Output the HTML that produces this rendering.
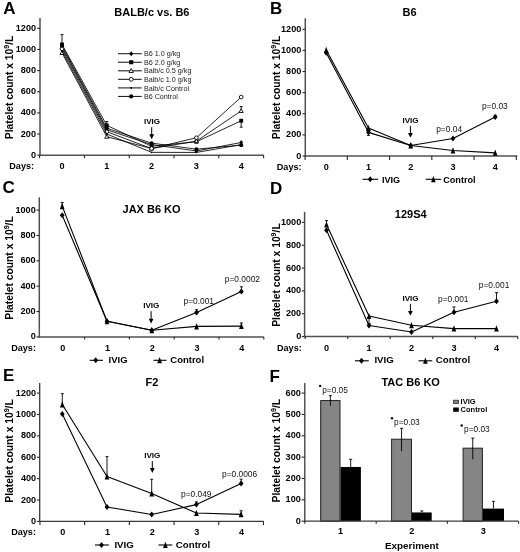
<!DOCTYPE html>
<html><head><meta charset="utf-8"><style>
html,body{margin:0;padding:0;background:#fff;width:520px;height:552px;overflow:hidden}
body{position:relative;font-family:"Liberation Sans", sans-serif}
</style></head><body>
<svg width="520" height="552" viewBox="0 0 520 552" style="position:absolute;left:0;top:0;will-change:transform">
<g font-family='"Liberation Sans", sans-serif'>
<text x="3.20" y="13.70" font-size="17" font-weight="bold" text-anchor="start" fill="#000" >A</text>
<text x="151.90" y="16.10" font-size="11" font-weight="bold" text-anchor="middle" fill="#000" >BALB/c vs. B6</text>
<line x1="40.00" y1="18.00" x2="40.00" y2="155.95" stroke="#505050" stroke-width="1.5"/>
<line x1="37.20" y1="155.20" x2="40.00" y2="155.20" stroke="#262626" stroke-width="1.1"/>
<text x="36.00" y="157.70" font-size="9.1" font-weight="bold" text-anchor="end" fill="#000" >0</text>
<line x1="37.20" y1="134.05" x2="40.00" y2="134.05" stroke="#262626" stroke-width="1.1"/>
<text x="36.00" y="136.55" font-size="9.1" font-weight="bold" text-anchor="end" fill="#000" >200</text>
<line x1="37.20" y1="112.90" x2="40.00" y2="112.90" stroke="#262626" stroke-width="1.1"/>
<text x="36.00" y="115.40" font-size="9.1" font-weight="bold" text-anchor="end" fill="#000" >400</text>
<line x1="37.20" y1="91.75" x2="40.00" y2="91.75" stroke="#262626" stroke-width="1.1"/>
<text x="36.00" y="94.25" font-size="9.1" font-weight="bold" text-anchor="end" fill="#000" >600</text>
<line x1="37.20" y1="70.60" x2="40.00" y2="70.60" stroke="#262626" stroke-width="1.1"/>
<text x="36.00" y="73.10" font-size="9.1" font-weight="bold" text-anchor="end" fill="#000" >800</text>
<line x1="37.20" y1="49.45" x2="40.00" y2="49.45" stroke="#262626" stroke-width="1.1"/>
<text x="36.00" y="51.95" font-size="9.1" font-weight="bold" text-anchor="end" fill="#000" >1000</text>
<line x1="37.20" y1="28.30" x2="40.00" y2="28.30" stroke="#262626" stroke-width="1.1"/>
<text x="36.00" y="30.80" font-size="9.1" font-weight="bold" text-anchor="end" fill="#000" >1200</text>
<line x1="39.25" y1="155.20" x2="263.80" y2="155.20" stroke="#505050" stroke-width="1.5"/>
<line x1="39.60" y1="155.20" x2="39.60" y2="158.20" stroke="#262626" stroke-width="1.1"/>
<line x1="84.40" y1="155.20" x2="84.40" y2="158.20" stroke="#262626" stroke-width="1.1"/>
<line x1="129.20" y1="155.20" x2="129.20" y2="158.20" stroke="#262626" stroke-width="1.1"/>
<line x1="174.00" y1="155.20" x2="174.00" y2="158.20" stroke="#262626" stroke-width="1.1"/>
<line x1="218.80" y1="155.20" x2="218.80" y2="158.20" stroke="#262626" stroke-width="1.1"/>
<line x1="263.60" y1="155.20" x2="263.60" y2="158.20" stroke="#262626" stroke-width="1.1"/>
<text x="62.00" y="169.20" font-size="9.1" font-weight="bold" text-anchor="middle" fill="#000" >0</text>
<text x="106.80" y="169.20" font-size="9.1" font-weight="bold" text-anchor="middle" fill="#000" >1</text>
<text x="151.60" y="169.20" font-size="9.1" font-weight="bold" text-anchor="middle" fill="#000" >2</text>
<text x="196.40" y="169.20" font-size="9.1" font-weight="bold" text-anchor="middle" fill="#000" >3</text>
<text x="241.20" y="169.20" font-size="9.1" font-weight="bold" text-anchor="middle" fill="#000" >4</text>
<text x="9.30" y="169.20" font-size="9.1" font-weight="bold" text-anchor="start" fill="#000" >Days:</text>
<text x="0" y="0" font-size="10.3" font-weight="bold" text-anchor="middle" transform="translate(12.50,87.45) rotate(-90)">Platelet count x 10<tspan font-size="7" dy="-3.3">9</tspan><tspan dy="3.3">/L</tspan></text>
<polyline points="62.00,45.75 106.80,128.23 151.60,143.14 196.40,149.17 241.20,145.15" fill="none" stroke="#000" stroke-width="0.85" stroke-linejoin="round"/>
<circle cx="62.00" cy="45.75" r="2.00" fill="#000"/>
<circle cx="106.80" cy="128.23" r="2.00" fill="#000"/>
<circle cx="151.60" cy="143.14" r="2.00" fill="#000"/>
<circle cx="196.40" cy="149.17" r="2.00" fill="#000"/>
<circle cx="241.20" cy="145.15" r="2.00" fill="#000"/>
<polyline points="62.00,47.33 106.80,129.82 151.60,144.62 196.40,150.97 241.20,142.51" fill="none" stroke="#000" stroke-width="0.85" stroke-linejoin="round"/>
<path d="M62.00,44.93L63.92,47.33L62.00,49.73L60.08,47.33Z" fill="#000"/>
<path d="M106.80,127.42L108.72,129.82L106.80,132.22L104.88,129.82Z" fill="#000"/>
<path d="M151.60,142.22L153.52,144.62L151.60,147.03L149.68,144.62Z" fill="#000"/>
<path d="M196.40,148.57L198.32,150.97L196.40,153.37L194.48,150.97Z" fill="#000"/>
<path d="M241.20,140.11L243.12,142.51L241.20,144.91L239.28,142.51Z" fill="#000"/>
<polyline points="62.00,44.48 106.80,125.38 151.60,146.21 196.40,141.77 241.20,120.73" fill="none" stroke="#000" stroke-width="0.85" stroke-linejoin="round"/>
<line x1="62.00" y1="44.48" x2="62.00" y2="34.64" stroke="#000" stroke-width="0.9"/>
<line x1="60.50" y1="34.64" x2="63.50" y2="34.64" stroke="#000" stroke-width="0.9"/>
<line x1="106.80" y1="125.38" x2="106.80" y2="121.57" stroke="#000" stroke-width="0.9"/>
<line x1="105.30" y1="121.57" x2="108.30" y2="121.57" stroke="#000" stroke-width="0.9"/>
<line x1="241.20" y1="120.73" x2="241.20" y2="127.18" stroke="#000" stroke-width="0.9"/>
<line x1="239.70" y1="127.18" x2="242.70" y2="127.18" stroke="#000" stroke-width="0.9"/>
<rect x="60.08" y="42.56" width="3.84" height="3.84" fill="#000"/>
<rect x="104.88" y="123.46" width="3.84" height="3.84" fill="#000"/>
<rect x="149.68" y="144.29" width="3.84" height="3.84" fill="#000"/>
<rect x="194.48" y="139.85" width="3.84" height="3.84" fill="#000"/>
<rect x="239.28" y="118.81" width="3.84" height="3.84" fill="#000"/>
<polyline points="62.00,52.94 106.80,136.69 151.60,148.54 196.40,141.14 241.20,110.89" fill="none" stroke="#000" stroke-width="0.85" stroke-linejoin="round"/>
<line x1="241.20" y1="110.89" x2="241.20" y2="106.55" stroke="#000" stroke-width="0.9"/>
<line x1="239.70" y1="106.55" x2="242.70" y2="106.55" stroke="#000" stroke-width="0.9"/>
<path d="M62.00,50.86L64.08,54.50L59.92,54.50Z" fill="#fff" stroke="#000" stroke-width="0.9"/>
<path d="M106.80,134.61L108.88,138.25L104.72,138.25Z" fill="#fff" stroke="#000" stroke-width="0.9"/>
<path d="M151.60,146.46L153.68,150.10L149.52,150.10Z" fill="#fff" stroke="#000" stroke-width="0.9"/>
<path d="M196.40,139.06L198.48,142.70L194.32,142.70Z" fill="#fff" stroke="#000" stroke-width="0.9"/>
<path d="M241.20,108.81L243.28,112.45L239.12,112.45Z" fill="#fff" stroke="#000" stroke-width="0.9"/>
<polyline points="62.00,48.92 106.80,131.72 151.60,148.54 196.40,137.75 241.20,97.04" fill="none" stroke="#000" stroke-width="0.85" stroke-linejoin="round"/>
<circle cx="62.00" cy="48.92" r="1.84" fill="#fff" stroke="#000" stroke-width="0.9"/>
<circle cx="106.80" cy="131.72" r="1.84" fill="#fff" stroke="#000" stroke-width="0.9"/>
<circle cx="151.60" cy="148.54" r="1.84" fill="#fff" stroke="#000" stroke-width="0.9"/>
<circle cx="196.40" cy="137.75" r="1.84" fill="#fff" stroke="#000" stroke-width="0.9"/>
<circle cx="241.20" cy="97.04" r="1.84" fill="#fff" stroke="#000" stroke-width="0.9"/>
<polyline points="62.00,51.04 106.80,134.05 151.60,152.34 196.40,152.45 241.20,144.62" fill="none" stroke="#000" stroke-width="0.85" stroke-linejoin="round"/>
<circle cx="62.00" cy="51.04" r="0.88" fill="#000"/>
<circle cx="106.80" cy="134.05" r="0.88" fill="#000"/>
<circle cx="151.60" cy="152.34" r="0.88" fill="#000"/>
<circle cx="196.40" cy="152.45" r="0.88" fill="#000"/>
<circle cx="241.20" cy="144.62" r="0.88" fill="#000"/>
<text x="152.00" y="124.30" font-size="8.1" font-weight="bold" text-anchor="middle" fill="#000" >IVIG</text>
<line x1="151.70" y1="127.20" x2="151.70" y2="136.20" stroke="#000" stroke-width="1.0"/>
<path d="M149.30,134.30L154.10,134.30L151.70,139.20Z" fill="#000"/>
<line x1="118.00" y1="53.70" x2="141.70" y2="53.70" stroke="#222" stroke-width="1.1"/>
<path d="M131.20,51.15L133.24,53.70L131.20,56.25L129.16,53.70Z" fill="#000"/>
<text x="143.90" y="56.30" font-size="7.2" font-weight="normal" text-anchor="start" fill="#1a1a1a" >B6 1.0 g/kg</text>
<line x1="118.00" y1="62.25" x2="141.70" y2="62.25" stroke="#222" stroke-width="1.1"/>
<rect x="129.16" y="60.21" width="4.08" height="4.08" fill="#000"/>
<text x="143.90" y="64.85" font-size="7.2" font-weight="normal" text-anchor="start" fill="#1a1a1a" >B6 2.0 g/kg</text>
<line x1="118.00" y1="70.80" x2="141.70" y2="70.80" stroke="#222" stroke-width="1.1"/>
<path d="M131.20,68.59L133.41,72.46L128.99,72.46Z" fill="#fff" stroke="#000" stroke-width="0.9"/>
<text x="143.90" y="73.40" font-size="7.2" font-weight="normal" text-anchor="start" fill="#1a1a1a" >Balb/c 0.5 g/kg</text>
<line x1="118.00" y1="79.35" x2="141.70" y2="79.35" stroke="#222" stroke-width="1.1"/>
<circle cx="131.20" cy="79.35" r="1.95" fill="#fff" stroke="#000" stroke-width="0.9"/>
<text x="143.90" y="81.95" font-size="7.2" font-weight="normal" text-anchor="start" fill="#1a1a1a" >Balb/c 1.0 g/kg</text>
<line x1="118.00" y1="87.90" x2="141.70" y2="87.90" stroke="#222" stroke-width="1.1"/>
<circle cx="131.20" cy="87.90" r="0.94" fill="#000"/>
<text x="143.90" y="90.50" font-size="7.2" font-weight="normal" text-anchor="start" fill="#1a1a1a" >Balb/c Control</text>
<line x1="118.00" y1="96.45" x2="141.70" y2="96.45" stroke="#222" stroke-width="1.1"/>
<circle cx="131.20" cy="96.45" r="2.12" fill="#000"/>
<text x="143.90" y="99.05" font-size="7.2" font-weight="normal" text-anchor="start" fill="#1a1a1a" >B6 Control</text>
<text x="270.00" y="13.60" font-size="17" font-weight="bold" text-anchor="start" fill="#000" >B</text>
<text x="409.50" y="16.20" font-size="11" font-weight="bold" text-anchor="middle" fill="#000" >B6</text>
<line x1="305.30" y1="18.30" x2="305.30" y2="156.75" stroke="#505050" stroke-width="1.5"/>
<line x1="302.50" y1="156.00" x2="305.30" y2="156.00" stroke="#262626" stroke-width="1.1"/>
<text x="301.30" y="158.50" font-size="9.1" font-weight="bold" text-anchor="end" fill="#000" >0</text>
<line x1="302.50" y1="134.88" x2="305.30" y2="134.88" stroke="#262626" stroke-width="1.1"/>
<text x="301.30" y="137.38" font-size="9.1" font-weight="bold" text-anchor="end" fill="#000" >200</text>
<line x1="302.50" y1="113.76" x2="305.30" y2="113.76" stroke="#262626" stroke-width="1.1"/>
<text x="301.30" y="116.26" font-size="9.1" font-weight="bold" text-anchor="end" fill="#000" >400</text>
<line x1="302.50" y1="92.64" x2="305.30" y2="92.64" stroke="#262626" stroke-width="1.1"/>
<text x="301.30" y="95.14" font-size="9.1" font-weight="bold" text-anchor="end" fill="#000" >600</text>
<line x1="302.50" y1="71.52" x2="305.30" y2="71.52" stroke="#262626" stroke-width="1.1"/>
<text x="301.30" y="74.02" font-size="9.1" font-weight="bold" text-anchor="end" fill="#000" >800</text>
<line x1="302.50" y1="50.40" x2="305.30" y2="50.40" stroke="#262626" stroke-width="1.1"/>
<text x="301.30" y="52.90" font-size="9.1" font-weight="bold" text-anchor="end" fill="#000" >1000</text>
<line x1="302.50" y1="29.28" x2="305.30" y2="29.28" stroke="#262626" stroke-width="1.1"/>
<text x="301.30" y="31.78" font-size="9.1" font-weight="bold" text-anchor="end" fill="#000" >1200</text>
<line x1="304.55" y1="156.00" x2="517.30" y2="156.00" stroke="#505050" stroke-width="1.5"/>
<line x1="305.07" y1="156.00" x2="305.07" y2="159.90" stroke="#262626" stroke-width="1.1"/>
<line x1="347.32" y1="156.00" x2="347.32" y2="159.90" stroke="#262626" stroke-width="1.1"/>
<line x1="389.57" y1="156.00" x2="389.57" y2="159.90" stroke="#262626" stroke-width="1.1"/>
<line x1="431.82" y1="156.00" x2="431.82" y2="159.90" stroke="#262626" stroke-width="1.1"/>
<line x1="474.07" y1="156.00" x2="474.07" y2="159.90" stroke="#262626" stroke-width="1.1"/>
<line x1="516.33" y1="156.00" x2="516.33" y2="159.90" stroke="#262626" stroke-width="1.1"/>
<text x="326.20" y="169.60" font-size="9.1" font-weight="bold" text-anchor="middle" fill="#000" >0</text>
<text x="368.45" y="169.60" font-size="9.1" font-weight="bold" text-anchor="middle" fill="#000" >1</text>
<text x="410.70" y="169.60" font-size="9.1" font-weight="bold" text-anchor="middle" fill="#000" >2</text>
<text x="452.95" y="169.60" font-size="9.1" font-weight="bold" text-anchor="middle" fill="#000" >3</text>
<text x="495.20" y="169.60" font-size="9.1" font-weight="bold" text-anchor="middle" fill="#000" >4</text>
<text x="276.80" y="169.60" font-size="9.1" font-weight="bold" text-anchor="start" fill="#000" >Days:</text>
<text x="0" y="0" font-size="10.3" font-weight="bold" text-anchor="middle" transform="translate(279.70,87.45) rotate(-90)">Platelet count x 10<tspan font-size="7" dy="-3.3">9</tspan><tspan dy="3.3">/L</tspan></text>
<polyline points="326.20,49.98 368.45,128.02 410.70,145.44 452.95,150.51 495.20,152.83" fill="none" stroke="#000" stroke-width="1.1" stroke-linejoin="round"/>
<path d="M326.20,46.68L328.55,52.98L323.85,52.98Z" fill="#000"/>
<path d="M368.45,124.72L370.80,131.02L366.10,131.02Z" fill="#000"/>
<path d="M410.70,142.14L413.05,148.44L408.35,148.44Z" fill="#000"/>
<path d="M452.95,147.21L455.30,153.51L450.60,153.51Z" fill="#000"/>
<path d="M495.20,149.53L497.55,155.83L492.85,155.83Z" fill="#000"/>
<polyline points="326.20,52.72 368.45,132.35 410.70,145.44 452.95,138.47 495.20,117.03" fill="none" stroke="#000" stroke-width="1.1" stroke-linejoin="round"/>
<line x1="368.45" y1="132.35" x2="368.45" y2="135.41" stroke="#000" stroke-width="0.9"/>
<line x1="366.95" y1="135.41" x2="369.95" y2="135.41" stroke="#000" stroke-width="0.9"/>
<line x1="495.20" y1="117.03" x2="495.20" y2="115.34" stroke="#000" stroke-width="0.9"/>
<line x1="493.70" y1="115.34" x2="496.70" y2="115.34" stroke="#000" stroke-width="0.9"/>
<path d="M326.20,49.72L328.60,52.72L326.20,55.72L323.80,52.72Z" fill="#000"/>
<path d="M368.45,129.35L370.85,132.35L368.45,135.35L366.05,132.35Z" fill="#000"/>
<path d="M410.70,142.44L413.10,145.44L410.70,148.44L408.30,145.44Z" fill="#000"/>
<path d="M452.95,135.47L455.35,138.47L452.95,141.47L450.55,138.47Z" fill="#000"/>
<path d="M495.20,114.03L497.60,117.03L495.20,120.03L492.80,117.03Z" fill="#000"/>
<text x="410.50" y="122.80" font-size="8.1" font-weight="bold" text-anchor="middle" fill="#000" >IVIG</text>
<line x1="410.40" y1="125.80" x2="410.40" y2="134.80" stroke="#000" stroke-width="1.0"/>
<path d="M408.00,132.90L412.80,132.90L410.40,137.80Z" fill="#000"/>
<text x="436.20" y="131.80" font-size="8.4" font-weight="normal" text-anchor="start" fill="#111" >p=0.04</text>
<text x="481.90" y="108.70" font-size="8.4" font-weight="normal" text-anchor="start" fill="#111" >p=0.03</text>
<line x1="362.50" y1="179.30" x2="377.90" y2="179.30" stroke="#000" stroke-width="1.1"/>
<path d="M370.20,176.30L372.60,179.30L370.20,182.30L367.80,179.30Z" fill="#000"/>
<text x="381.90" y="182.50" font-size="9.15" font-weight="bold" text-anchor="start" fill="#000" >IVIG</text>
<line x1="425.70" y1="179.30" x2="441.20" y2="179.30" stroke="#000" stroke-width="1.1"/>
<path d="M433.40,176.00L435.75,182.30L431.05,182.30Z" fill="#000"/>
<text x="443.20" y="182.50" font-size="9.15" font-weight="bold" text-anchor="start" fill="#000" >Control</text>
<text x="2.60" y="193.20" font-size="17" font-weight="bold" text-anchor="start" fill="#000" >C</text>
<text x="151.60" y="213.30" font-size="11" font-weight="bold" text-anchor="middle" fill="#000" >JAX B6 KO</text>
<line x1="39.30" y1="197.30" x2="39.30" y2="337.65" stroke="#505050" stroke-width="1.5"/>
<line x1="36.50" y1="336.90" x2="39.30" y2="336.90" stroke="#262626" stroke-width="1.1"/>
<text x="35.70" y="339.40" font-size="9.1" font-weight="bold" text-anchor="end" fill="#000" >0</text>
<line x1="36.50" y1="311.54" x2="39.30" y2="311.54" stroke="#262626" stroke-width="1.1"/>
<text x="35.70" y="314.04" font-size="9.1" font-weight="bold" text-anchor="end" fill="#000" >200</text>
<line x1="36.50" y1="286.18" x2="39.30" y2="286.18" stroke="#262626" stroke-width="1.1"/>
<text x="35.70" y="288.68" font-size="9.1" font-weight="bold" text-anchor="end" fill="#000" >400</text>
<line x1="36.50" y1="260.82" x2="39.30" y2="260.82" stroke="#262626" stroke-width="1.1"/>
<text x="35.70" y="263.32" font-size="9.1" font-weight="bold" text-anchor="end" fill="#000" >600</text>
<line x1="36.50" y1="235.46" x2="39.30" y2="235.46" stroke="#262626" stroke-width="1.1"/>
<text x="35.70" y="237.96" font-size="9.1" font-weight="bold" text-anchor="end" fill="#000" >800</text>
<line x1="36.50" y1="210.10" x2="39.30" y2="210.10" stroke="#262626" stroke-width="1.1"/>
<text x="35.70" y="212.60" font-size="9.1" font-weight="bold" text-anchor="end" fill="#000" >1000</text>
<line x1="38.55" y1="336.90" x2="263.80" y2="336.90" stroke="#505050" stroke-width="1.5"/>
<line x1="84.60" y1="336.90" x2="84.60" y2="339.60" stroke="#262626" stroke-width="1.1"/>
<line x1="129.40" y1="336.90" x2="129.40" y2="339.60" stroke="#262626" stroke-width="1.1"/>
<line x1="174.20" y1="336.90" x2="174.20" y2="339.60" stroke="#262626" stroke-width="1.1"/>
<line x1="219.00" y1="336.90" x2="219.00" y2="339.60" stroke="#262626" stroke-width="1.1"/>
<line x1="263.80" y1="336.90" x2="263.80" y2="339.60" stroke="#262626" stroke-width="1.1"/>
<text x="62.70" y="351.20" font-size="9.1" font-weight="bold" text-anchor="middle" fill="#000" >0</text>
<text x="107.50" y="351.20" font-size="9.1" font-weight="bold" text-anchor="middle" fill="#000" >1</text>
<text x="152.30" y="351.20" font-size="9.1" font-weight="bold" text-anchor="middle" fill="#000" >2</text>
<text x="197.10" y="351.20" font-size="9.1" font-weight="bold" text-anchor="middle" fill="#000" >3</text>
<text x="241.90" y="351.20" font-size="9.1" font-weight="bold" text-anchor="middle" fill="#000" >4</text>
<text x="11.20" y="351.20" font-size="9.1" font-weight="bold" text-anchor="start" fill="#000" >Days:</text>
<text x="0" y="0" font-size="10.3" font-weight="bold" text-anchor="middle" transform="translate(12.50,268.00) rotate(-90)">Platelet count x 10<tspan font-size="7" dy="-3.3">9</tspan><tspan dy="3.3">/L</tspan></text>
<polyline points="62.20,206.17 107.00,321.18 151.80,330.31 196.60,326.38 241.40,326.12" fill="none" stroke="#000" stroke-width="1.1" stroke-linejoin="round"/>
<line x1="62.20" y1="206.17" x2="62.20" y2="202.49" stroke="#000" stroke-width="0.9"/>
<line x1="60.70" y1="202.49" x2="63.70" y2="202.49" stroke="#000" stroke-width="0.9"/>
<line x1="241.40" y1="326.12" x2="241.40" y2="322.95" stroke="#000" stroke-width="0.9"/>
<line x1="239.90" y1="322.95" x2="242.90" y2="322.95" stroke="#000" stroke-width="0.9"/>
<path d="M62.20,202.87L64.55,209.17L59.85,209.17Z" fill="#000"/>
<path d="M107.00,317.88L109.35,324.18L104.65,324.18Z" fill="#000"/>
<path d="M151.80,327.01L154.15,333.31L149.45,333.31Z" fill="#000"/>
<path d="M196.60,323.08L198.95,329.38L194.25,329.38Z" fill="#000"/>
<path d="M241.40,322.82L243.75,329.12L239.05,329.12Z" fill="#000"/>
<polyline points="62.20,215.17 107.00,321.18 151.80,330.31 196.60,312.55 241.40,291.51" fill="none" stroke="#000" stroke-width="1.1" stroke-linejoin="round"/>
<line x1="196.60" y1="312.55" x2="196.60" y2="309.64" stroke="#000" stroke-width="0.9"/>
<line x1="195.10" y1="309.64" x2="198.10" y2="309.64" stroke="#000" stroke-width="0.9"/>
<line x1="241.40" y1="291.51" x2="241.40" y2="286.81" stroke="#000" stroke-width="0.9"/>
<line x1="239.90" y1="286.81" x2="242.90" y2="286.81" stroke="#000" stroke-width="0.9"/>
<path d="M62.20,212.17L64.60,215.17L62.20,218.17L59.80,215.17Z" fill="#000"/>
<path d="M107.00,318.18L109.40,321.18L107.00,324.18L104.60,321.18Z" fill="#000"/>
<path d="M151.80,327.31L154.20,330.31L151.80,333.31L149.40,330.31Z" fill="#000"/>
<path d="M196.60,309.55L199.00,312.55L196.60,315.55L194.20,312.55Z" fill="#000"/>
<path d="M241.40,288.51L243.80,291.51L241.40,294.51L239.00,291.51Z" fill="#000"/>
<text x="151.25" y="308.40" font-size="8.1" font-weight="bold" text-anchor="middle" fill="#000" >IVIG</text>
<line x1="151.10" y1="311.20" x2="151.10" y2="320.60" stroke="#000" stroke-width="1.0"/>
<path d="M148.70,318.70L153.50,318.70L151.10,323.60Z" fill="#000"/>
<text x="183.50" y="304.00" font-size="8.4" font-weight="normal" text-anchor="start" fill="#111" >p=0.001</text>
<text x="224.80" y="282.20" font-size="8.4" font-weight="normal" text-anchor="start" fill="#111" >p=0.0002</text>
<line x1="89.70" y1="360.30" x2="103.00" y2="360.30" stroke="#000" stroke-width="1.1"/>
<path d="M95.70,357.30L98.10,360.30L95.70,363.30L93.30,360.30Z" fill="#000"/>
<text x="108.60" y="363.20" font-size="9.5" font-weight="bold" text-anchor="start" fill="#000" >IVIG</text>
<line x1="153.40" y1="360.30" x2="166.50" y2="360.30" stroke="#000" stroke-width="1.1"/>
<path d="M159.60,357.00L161.95,363.30L157.25,363.30Z" fill="#000"/>
<text x="170.30" y="363.20" font-size="9.5" font-weight="bold" text-anchor="start" fill="#000" >Control</text>
<text x="270.00" y="193.60" font-size="17" font-weight="bold" text-anchor="start" fill="#000" >D</text>
<text x="410.70" y="218.40" font-size="11" font-weight="bold" text-anchor="middle" fill="#000" >129S4</text>
<line x1="304.60" y1="211.90" x2="304.60" y2="337.35" stroke="#505050" stroke-width="1.5"/>
<line x1="301.80" y1="336.60" x2="304.60" y2="336.60" stroke="#262626" stroke-width="1.1"/>
<text x="301.20" y="339.10" font-size="9.1" font-weight="bold" text-anchor="end" fill="#000" >0</text>
<line x1="301.80" y1="313.76" x2="304.60" y2="313.76" stroke="#262626" stroke-width="1.1"/>
<text x="301.20" y="316.26" font-size="9.1" font-weight="bold" text-anchor="end" fill="#000" >200</text>
<line x1="301.80" y1="290.92" x2="304.60" y2="290.92" stroke="#262626" stroke-width="1.1"/>
<text x="301.20" y="293.42" font-size="9.1" font-weight="bold" text-anchor="end" fill="#000" >400</text>
<line x1="301.80" y1="268.08" x2="304.60" y2="268.08" stroke="#262626" stroke-width="1.1"/>
<text x="301.20" y="270.58" font-size="9.1" font-weight="bold" text-anchor="end" fill="#000" >600</text>
<line x1="301.80" y1="245.24" x2="304.60" y2="245.24" stroke="#262626" stroke-width="1.1"/>
<text x="301.20" y="247.74" font-size="9.1" font-weight="bold" text-anchor="end" fill="#000" >800</text>
<line x1="301.80" y1="222.40" x2="304.60" y2="222.40" stroke="#262626" stroke-width="1.1"/>
<text x="301.20" y="224.90" font-size="9.1" font-weight="bold" text-anchor="end" fill="#000" >1000</text>
<line x1="303.85" y1="336.60" x2="518.00" y2="336.60" stroke="#505050" stroke-width="1.5"/>
<line x1="305.25" y1="336.60" x2="305.25" y2="339.00" stroke="#262626" stroke-width="1.1"/>
<line x1="347.75" y1="336.60" x2="347.75" y2="339.00" stroke="#262626" stroke-width="1.1"/>
<line x1="390.25" y1="336.60" x2="390.25" y2="339.00" stroke="#262626" stroke-width="1.1"/>
<line x1="432.75" y1="336.60" x2="432.75" y2="339.00" stroke="#262626" stroke-width="1.1"/>
<line x1="475.25" y1="336.60" x2="475.25" y2="339.00" stroke="#262626" stroke-width="1.1"/>
<line x1="517.75" y1="336.60" x2="517.75" y2="339.00" stroke="#262626" stroke-width="1.1"/>
<text x="326.50" y="350.80" font-size="9.1" font-weight="bold" text-anchor="middle" fill="#000" >0</text>
<text x="369.00" y="350.80" font-size="9.1" font-weight="bold" text-anchor="middle" fill="#000" >1</text>
<text x="411.50" y="350.80" font-size="9.1" font-weight="bold" text-anchor="middle" fill="#000" >2</text>
<text x="454.00" y="350.80" font-size="9.1" font-weight="bold" text-anchor="middle" fill="#000" >3</text>
<text x="496.50" y="350.80" font-size="9.1" font-weight="bold" text-anchor="middle" fill="#000" >4</text>
<text x="277.00" y="350.80" font-size="9.1" font-weight="bold" text-anchor="start" fill="#000" >Days:</text>
<text x="0" y="0" font-size="10.3" font-weight="bold" text-anchor="middle" transform="translate(279.70,275.05) rotate(-90)">Platelet count x 10<tspan font-size="7" dy="-3.3">9</tspan><tspan dy="3.3">/L</tspan></text>
<polyline points="326.50,224.57 369.00,316.04 411.50,325.29 454.00,328.61 496.50,328.61" fill="none" stroke="#000" stroke-width="1.1" stroke-linejoin="round"/>
<line x1="326.50" y1="224.57" x2="326.50" y2="220.57" stroke="#000" stroke-width="0.9"/>
<line x1="325.00" y1="220.57" x2="328.00" y2="220.57" stroke="#000" stroke-width="0.9"/>
<line x1="369.00" y1="316.04" x2="369.00" y2="323.47" stroke="#000" stroke-width="0.9"/>
<line x1="367.50" y1="323.47" x2="370.50" y2="323.47" stroke="#000" stroke-width="0.9"/>
<path d="M326.50,221.27L328.85,227.57L324.15,227.57Z" fill="#000"/>
<path d="M369.00,312.74L371.35,319.04L366.65,319.04Z" fill="#000"/>
<path d="M411.50,321.99L413.85,328.29L409.15,328.29Z" fill="#000"/>
<path d="M454.00,325.31L456.35,331.61L451.65,331.61Z" fill="#000"/>
<path d="M496.50,325.31L498.85,331.61L494.15,331.61Z" fill="#000"/>
<polyline points="326.50,230.17 369.00,325.52 411.50,331.92 454.00,312.16 496.50,301.20" fill="none" stroke="#000" stroke-width="1.1" stroke-linejoin="round"/>
<line x1="454.00" y1="312.16" x2="454.00" y2="306.91" stroke="#000" stroke-width="0.9"/>
<line x1="452.50" y1="306.91" x2="455.50" y2="306.91" stroke="#000" stroke-width="0.9"/>
<line x1="496.50" y1="301.20" x2="496.50" y2="292.63" stroke="#000" stroke-width="0.9"/>
<line x1="495.00" y1="292.63" x2="498.00" y2="292.63" stroke="#000" stroke-width="0.9"/>
<path d="M326.50,227.17L328.90,230.17L326.50,233.17L324.10,230.17Z" fill="#000"/>
<path d="M369.00,322.52L371.40,325.52L369.00,328.52L366.60,325.52Z" fill="#000"/>
<path d="M411.50,328.92L413.90,331.92L411.50,334.92L409.10,331.92Z" fill="#000"/>
<path d="M454.00,309.16L456.40,312.16L454.00,315.16L451.60,312.16Z" fill="#000"/>
<path d="M496.50,298.20L498.90,301.20L496.50,304.20L494.10,301.20Z" fill="#000"/>
<text x="410.50" y="300.60" font-size="8.1" font-weight="bold" text-anchor="middle" fill="#000" >IVIG</text>
<line x1="410.40" y1="303.80" x2="410.40" y2="312.80" stroke="#000" stroke-width="1.0"/>
<path d="M408.00,310.90L412.80,310.90L410.40,315.80Z" fill="#000"/>
<text x="438.00" y="301.50" font-size="8.4" font-weight="normal" text-anchor="start" fill="#111" >p=0.001</text>
<text x="478.80" y="288.30" font-size="8.4" font-weight="normal" text-anchor="start" fill="#111" >p=0.001</text>
<line x1="355.00" y1="360.80" x2="368.80" y2="360.80" stroke="#000" stroke-width="1.1"/>
<path d="M361.50,357.80L363.90,360.80L361.50,363.80L359.10,360.80Z" fill="#000"/>
<text x="374.40" y="363.40" font-size="9.7" font-weight="bold" text-anchor="start" fill="#000" >IVIG</text>
<line x1="418.50" y1="360.80" x2="432.30" y2="360.80" stroke="#000" stroke-width="1.1"/>
<path d="M425.40,357.50L427.75,363.80L423.05,363.80Z" fill="#000"/>
<text x="435.80" y="363.40" font-size="9.7" font-weight="bold" text-anchor="start" fill="#000" >Control</text>
<text x="3.00" y="381.10" font-size="17" font-weight="bold" text-anchor="start" fill="#000" >E</text>
<text x="151.90" y="385.90" font-size="11" font-weight="bold" text-anchor="middle" fill="#000" >F2</text>
<line x1="39.70" y1="383.00" x2="39.70" y2="522.05" stroke="#3a3a3a" stroke-width="1.3"/>
<line x1="36.90" y1="521.40" x2="39.70" y2="521.40" stroke="#262626" stroke-width="1.1"/>
<text x="36.10" y="523.90" font-size="9.1" font-weight="bold" text-anchor="end" fill="#000" >0</text>
<line x1="36.90" y1="500.02" x2="39.70" y2="500.02" stroke="#262626" stroke-width="1.1"/>
<text x="36.10" y="502.52" font-size="9.1" font-weight="bold" text-anchor="end" fill="#000" >200</text>
<line x1="36.90" y1="478.63" x2="39.70" y2="478.63" stroke="#262626" stroke-width="1.1"/>
<text x="36.10" y="481.13" font-size="9.1" font-weight="bold" text-anchor="end" fill="#000" >400</text>
<line x1="36.90" y1="457.25" x2="39.70" y2="457.25" stroke="#262626" stroke-width="1.1"/>
<text x="36.10" y="459.75" font-size="9.1" font-weight="bold" text-anchor="end" fill="#000" >600</text>
<line x1="36.90" y1="435.86" x2="39.70" y2="435.86" stroke="#262626" stroke-width="1.1"/>
<text x="36.10" y="438.36" font-size="9.1" font-weight="bold" text-anchor="end" fill="#000" >800</text>
<line x1="36.90" y1="414.48" x2="39.70" y2="414.48" stroke="#262626" stroke-width="1.1"/>
<text x="36.10" y="416.98" font-size="9.1" font-weight="bold" text-anchor="end" fill="#000" >1000</text>
<line x1="36.90" y1="393.10" x2="39.70" y2="393.10" stroke="#262626" stroke-width="1.1"/>
<text x="36.10" y="395.60" font-size="9.1" font-weight="bold" text-anchor="end" fill="#000" >1200</text>
<line x1="39.05" y1="521.40" x2="263.80" y2="521.40" stroke="#3a3a3a" stroke-width="1.3"/>
<line x1="39.95" y1="521.40" x2="39.95" y2="525.00" stroke="#262626" stroke-width="1.1"/>
<line x1="84.65" y1="521.40" x2="84.65" y2="525.00" stroke="#262626" stroke-width="1.1"/>
<line x1="129.35" y1="521.40" x2="129.35" y2="525.00" stroke="#262626" stroke-width="1.1"/>
<line x1="174.05" y1="521.40" x2="174.05" y2="525.00" stroke="#262626" stroke-width="1.1"/>
<line x1="218.75" y1="521.40" x2="218.75" y2="525.00" stroke="#262626" stroke-width="1.1"/>
<line x1="263.45" y1="521.40" x2="263.45" y2="525.00" stroke="#262626" stroke-width="1.1"/>
<text x="62.80" y="535.20" font-size="9.1" font-weight="bold" text-anchor="middle" fill="#000" >0</text>
<text x="107.50" y="535.20" font-size="9.1" font-weight="bold" text-anchor="middle" fill="#000" >1</text>
<text x="152.20" y="535.20" font-size="9.1" font-weight="bold" text-anchor="middle" fill="#000" >2</text>
<text x="196.90" y="535.20" font-size="9.1" font-weight="bold" text-anchor="middle" fill="#000" >3</text>
<text x="241.60" y="535.20" font-size="9.1" font-weight="bold" text-anchor="middle" fill="#000" >4</text>
<text x="11.20" y="535.20" font-size="9.1" font-weight="bold" text-anchor="start" fill="#000" >Days:</text>
<text x="0" y="0" font-size="10.3" font-weight="bold" text-anchor="middle" transform="translate(12.50,451.00) rotate(-90)">Platelet count x 10<tspan font-size="7" dy="-3.3">9</tspan><tspan dy="3.3">/L</tspan></text>
<polyline points="62.30,404.54 107.00,476.49 151.70,493.60 196.40,513.06 241.10,514.34" fill="none" stroke="#000" stroke-width="1.1" stroke-linejoin="round"/>
<line x1="62.30" y1="404.54" x2="62.30" y2="393.63" stroke="#000" stroke-width="0.9"/>
<line x1="60.80" y1="393.63" x2="63.80" y2="393.63" stroke="#000" stroke-width="0.9"/>
<line x1="107.00" y1="476.49" x2="107.00" y2="456.61" stroke="#000" stroke-width="0.9"/>
<line x1="105.50" y1="456.61" x2="108.50" y2="456.61" stroke="#000" stroke-width="0.9"/>
<line x1="151.70" y1="493.60" x2="151.70" y2="479.27" stroke="#000" stroke-width="0.9"/>
<line x1="150.20" y1="479.27" x2="153.20" y2="479.27" stroke="#000" stroke-width="0.9"/>
<line x1="241.10" y1="514.34" x2="241.10" y2="510.71" stroke="#000" stroke-width="0.9"/>
<line x1="239.60" y1="510.71" x2="242.60" y2="510.71" stroke="#000" stroke-width="0.9"/>
<path d="M62.30,401.24L64.65,407.54L59.95,407.54Z" fill="#000"/>
<path d="M107.00,473.19L109.35,479.49L104.65,479.49Z" fill="#000"/>
<path d="M151.70,490.30L154.05,496.60L149.35,496.60Z" fill="#000"/>
<path d="M196.40,509.76L198.75,516.06L194.05,516.06Z" fill="#000"/>
<path d="M241.10,511.04L243.45,517.34L238.75,517.34Z" fill="#000"/>
<polyline points="62.30,414.05 107.00,506.97 151.70,514.56 196.40,504.61 241.10,483.44" fill="none" stroke="#000" stroke-width="1.1" stroke-linejoin="round"/>
<line x1="196.40" y1="504.61" x2="196.40" y2="501.83" stroke="#000" stroke-width="0.9"/>
<line x1="194.90" y1="501.83" x2="197.90" y2="501.83" stroke="#000" stroke-width="0.9"/>
<line x1="241.10" y1="483.44" x2="241.10" y2="479.17" stroke="#000" stroke-width="0.9"/>
<line x1="239.60" y1="479.17" x2="242.60" y2="479.17" stroke="#000" stroke-width="0.9"/>
<path d="M62.30,411.05L64.70,414.05L62.30,417.05L59.90,414.05Z" fill="#000"/>
<path d="M107.00,503.97L109.40,506.97L107.00,509.97L104.60,506.97Z" fill="#000"/>
<path d="M151.70,511.56L154.10,514.56L151.70,517.56L149.30,514.56Z" fill="#000"/>
<path d="M196.40,501.61L198.80,504.61L196.40,507.61L194.00,504.61Z" fill="#000"/>
<path d="M241.10,480.44L243.50,483.44L241.10,486.44L238.70,483.44Z" fill="#000"/>
<text x="152.25" y="457.60" font-size="8.1" font-weight="bold" text-anchor="middle" fill="#000" >IVIG</text>
<line x1="152.30" y1="461.00" x2="152.30" y2="469.90" stroke="#000" stroke-width="1.0"/>
<path d="M149.90,468.00L154.70,468.00L152.30,472.90Z" fill="#000"/>
<text x="181.00" y="497.20" font-size="8.4" font-weight="normal" text-anchor="start" fill="#111" >p=0.049</text>
<text x="222.00" y="476.50" font-size="8.4" font-weight="normal" text-anchor="start" fill="#111" >p=0.0006</text>
<line x1="95.00" y1="545.00" x2="108.80" y2="545.00" stroke="#000" stroke-width="1.1"/>
<path d="M101.50,542.00L103.90,545.00L101.50,548.00L99.10,545.00Z" fill="#000"/>
<text x="114.40" y="547.90" font-size="9.7" font-weight="bold" text-anchor="start" fill="#000" >IVIG</text>
<line x1="158.50" y1="545.00" x2="172.30" y2="545.00" stroke="#000" stroke-width="1.1"/>
<path d="M165.40,541.70L167.75,548.00L163.05,548.00Z" fill="#000"/>
<text x="175.80" y="547.90" font-size="9.7" font-weight="bold" text-anchor="start" fill="#000" >Control</text>
<text x="269.60" y="381.90" font-size="17" font-weight="bold" text-anchor="start" fill="#000" >F</text>
<text x="410.70" y="386.40" font-size="11" font-weight="bold" text-anchor="middle" fill="#000" >TAC B6 KO</text>
<line x1="304.80" y1="383.00" x2="304.80" y2="521.85" stroke="#3a3a3a" stroke-width="1.3"/>
<line x1="301.60" y1="521.20" x2="304.80" y2="521.20" stroke="#262626" stroke-width="1.1"/>
<text x="300.80" y="523.70" font-size="9.1" font-weight="bold" text-anchor="end" fill="#000" >0</text>
<line x1="301.60" y1="499.85" x2="304.80" y2="499.85" stroke="#262626" stroke-width="1.1"/>
<text x="300.80" y="502.35" font-size="9.1" font-weight="bold" text-anchor="end" fill="#000" >100</text>
<line x1="301.60" y1="478.50" x2="304.80" y2="478.50" stroke="#262626" stroke-width="1.1"/>
<text x="300.80" y="481.00" font-size="9.1" font-weight="bold" text-anchor="end" fill="#000" >200</text>
<line x1="301.60" y1="457.15" x2="304.80" y2="457.15" stroke="#262626" stroke-width="1.1"/>
<text x="300.80" y="459.65" font-size="9.1" font-weight="bold" text-anchor="end" fill="#000" >300</text>
<line x1="301.60" y1="435.80" x2="304.80" y2="435.80" stroke="#262626" stroke-width="1.1"/>
<text x="300.80" y="438.30" font-size="9.1" font-weight="bold" text-anchor="end" fill="#000" >400</text>
<line x1="301.60" y1="414.45" x2="304.80" y2="414.45" stroke="#262626" stroke-width="1.1"/>
<text x="300.80" y="416.95" font-size="9.1" font-weight="bold" text-anchor="end" fill="#000" >500</text>
<line x1="301.60" y1="393.10" x2="304.80" y2="393.10" stroke="#262626" stroke-width="1.1"/>
<text x="300.80" y="395.60" font-size="9.1" font-weight="bold" text-anchor="end" fill="#000" >600</text>
<text x="0" y="0" font-size="10.3" font-weight="bold" text-anchor="middle" transform="translate(279.6,450.65) rotate(-90)">Platelet count x 10<tspan font-size="7" dy="-3.3">9</tspan><tspan dy="3.3">/L</tspan></text>
<rect x="320.70" y="400.57" width="19.30" height="120.63" fill="#858585" stroke="#222" stroke-width="1"/>
<line x1="330.35" y1="405.91" x2="330.35" y2="395.66" stroke="#000" stroke-width="0.9"/>
<line x1="328.85" y1="395.66" x2="331.85" y2="395.66" stroke="#000" stroke-width="0.9"/>
<rect x="391.60" y="439.22" width="19.90" height="81.98" fill="#858585" stroke="#222" stroke-width="1"/>
<line x1="401.55" y1="451.17" x2="401.55" y2="428.33" stroke="#000" stroke-width="0.9"/>
<line x1="400.05" y1="428.33" x2="403.05" y2="428.33" stroke="#000" stroke-width="0.9"/>
<rect x="463.10" y="448.18" width="19.30" height="73.02" fill="#858585" stroke="#222" stroke-width="1"/>
<line x1="472.75" y1="459.29" x2="472.75" y2="438.15" stroke="#000" stroke-width="0.9"/>
<line x1="471.25" y1="438.15" x2="474.25" y2="438.15" stroke="#000" stroke-width="0.9"/>
<rect x="340.50" y="466.97" width="20.40" height="54.23" fill="#000"/>
<line x1="350.70" y1="466.97" x2="350.70" y2="459.29" stroke="#000" stroke-width="0.9"/>
<line x1="349.20" y1="459.29" x2="352.20" y2="459.29" stroke="#000" stroke-width="0.9"/>
<rect x="412.00" y="512.45" width="19.70" height="8.75" fill="#000"/>
<line x1="421.85" y1="512.45" x2="421.85" y2="510.95" stroke="#000" stroke-width="0.9"/>
<line x1="420.35" y1="510.95" x2="423.35" y2="510.95" stroke="#000" stroke-width="0.9"/>
<rect x="482.90" y="508.60" width="21.10" height="12.60" fill="#000"/>
<line x1="493.45" y1="508.60" x2="493.45" y2="501.34" stroke="#000" stroke-width="0.9"/>
<line x1="491.95" y1="501.34" x2="494.95" y2="501.34" stroke="#000" stroke-width="0.9"/>
<line x1="304.15" y1="521.20" x2="518.60" y2="521.20" stroke="#3a3a3a" stroke-width="1.3"/>
<line x1="304.80" y1="521.20" x2="304.80" y2="523.80" stroke="#262626" stroke-width="1.1"/>
<line x1="376.20" y1="521.20" x2="376.20" y2="523.80" stroke="#262626" stroke-width="1.1"/>
<line x1="447.40" y1="521.20" x2="447.40" y2="523.80" stroke="#262626" stroke-width="1.1"/>
<line x1="518.60" y1="521.20" x2="518.60" y2="523.80" stroke="#262626" stroke-width="1.1"/>
<text x="340.60" y="534.20" font-size="9.1" font-weight="bold" text-anchor="middle" fill="#000" >1</text>
<text x="411.90" y="534.20" font-size="9.1" font-weight="bold" text-anchor="middle" fill="#000" >2</text>
<text x="483.20" y="534.20" font-size="9.1" font-weight="bold" text-anchor="middle" fill="#000" >3</text>
<text x="411.90" y="548.70" font-size="9.9" font-weight="bold" text-anchor="middle" fill="#000" >Experiment</text>
<circle cx="320.20" cy="386.10" r="1.25" fill="#111"/>
<text x="322.20" y="392.60" font-size="8.3" font-weight="normal" text-anchor="start" fill="#111" >p=0.05</text>
<circle cx="392.00" cy="418.20" r="1.25" fill="#111"/>
<text x="394.10" y="424.70" font-size="8.3" font-weight="normal" text-anchor="start" fill="#111" >p=0.03</text>
<circle cx="461.70" cy="425.40" r="1.25" fill="#111"/>
<text x="464.10" y="431.90" font-size="8.3" font-weight="normal" text-anchor="start" fill="#111" >p=0.03</text>
<rect x="453.6" y="400.2" width="4.9" height="3.2" fill="#858585" stroke="#222" stroke-width="0.8"/>
<rect x="453.2" y="407.5" width="5.6" height="4.3" fill="#000"/>
<text x="460.60" y="404.00" font-size="7.5" font-weight="bold" text-anchor="start" fill="#000" >IVIG</text>
<text x="460.60" y="411.90" font-size="7.5" font-weight="bold" text-anchor="start" fill="#000" >Control</text>
</g></svg>
</body></html>
